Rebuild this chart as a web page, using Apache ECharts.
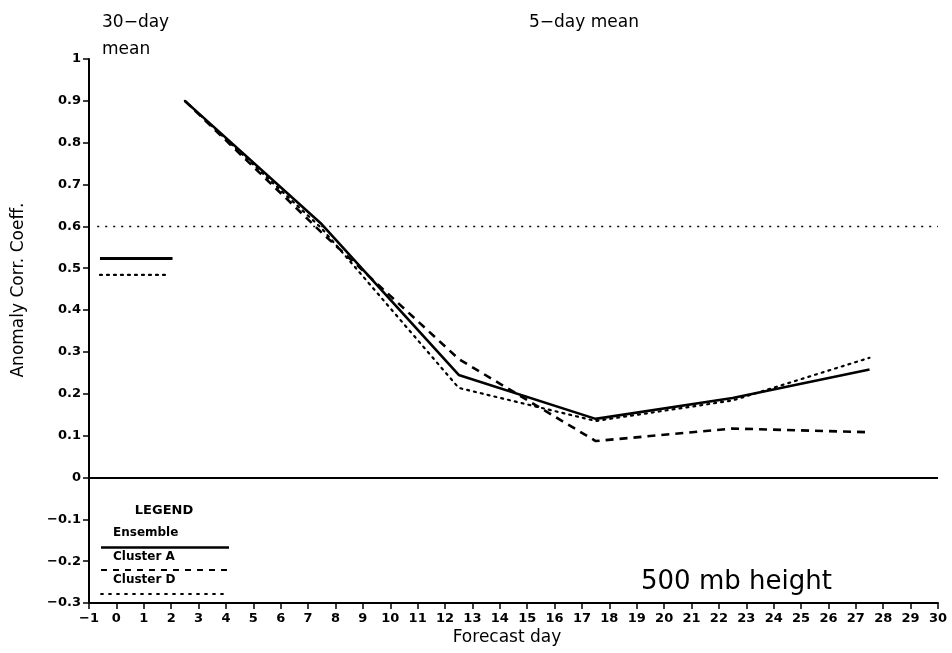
<!DOCTYPE html>
<html>
<head>
<meta charset="utf-8">
<script src="https://cdn.jsdelivr.net/npm/echarts@6/dist/echarts.min.js"></script>
<style>
  html, body { margin: 0; padding: 0; background: #fff; }
  #chart { width: 952px; height: 653px; }
</style>
</head>
<body>
<div id="chart"></div>
<script>
// 5-day mean forecast windows (centre day of each window)
const days = [2.5, 7.5, 12.5, 17.5, 22.5, 27.5];
// Anomaly correlation coefficient of 500 mb height, 5-day means
const ensemble = [0.90, 0.605, 0.245, 0.140, 0.190, 0.258];
const clusterA = [0.90, 0.585, 0.283, 0.087, 0.117, 0.108];
const clusterD = [0.90, 0.595, 0.214, 0.135, 0.184, 0.286];
// 30-day mean scores, shown as short bars at the left
const monthSpanEnsemble = [-0.6, 2.05];
const monthSpanClusterD = [-0.6, 1.85];
const monthEnsemble = 0.523;
const monthClusterD = 0.484;
// reference levels
const skillThreshold = 0.6;
const zeroLevel = 0;
// axis ranges
const xRange = [-1, 30];
const yRange = [-0.3, 1];

const FONT = 'DejaVu Sans';
const pairs = (xs, ys) => xs.map((x, i) => [x, ys[i]]);
const flat = (span, v) => span.map(x => [x, v]);

const fmtY = v => {
  const r = Math.round(v * 10) / 10;
  if (r === 0) return '0';
  if (r === 1) return '1';
  return (r < 0 ? '\u2212' : '') + Math.abs(r).toFixed(1);
};
const fmtX = v => (v < 0 ? '\u2212' : '') + Math.abs(v);

const lineBase = { type: 'line', symbol: 'none', animation: false, z: 3 };

const chart = echarts.init(document.getElementById('chart'), null, { renderer: 'canvas' });
chart.setOption({
  backgroundColor: '#fff',
  animation: false,
  grid: { left: 89, right: 14, top: 59, bottom: 50 },
  xAxis: {
    type: 'value', min: xRange[0], max: xRange[1], interval: 1,
    axisLine: { onZero: false, lineStyle: { color: '#000', width: 2 } },
    axisTick: { show: true, length: 6, lineStyle: { color: '#000', width: 1.5 } },
    axisLabel: { color: '#000', fontFamily: FONT, fontWeight: 'bold', fontSize: 13, margin: 9, formatter: fmtX },
    splitLine: { show: false }
  },
  yAxis: {
    type: 'value', min: yRange[0], max: yRange[1], interval: 0.1,
    axisLine: { onZero: false, lineStyle: { color: '#000', width: 2 } },
    axisTick: { show: true, length: 6, lineStyle: { color: '#000', width: 1.5 } },
    axisLabel: { color: '#000', fontFamily: FONT, fontWeight: 'bold', fontSize: 13, margin: 8, formatter: fmtY },
    splitLine: { show: false }
  },
  series: [
    {
      ...lineBase, name: 'Cluster D', data: pairs(days, clusterD),
      lineStyle: { color: '#000', width: 2.2, type: [2, 5], cap: 'round' },
      markLine: {
        silent: true, symbol: 'none', label: { show: false },
        lineStyle: { color: '#000', width: 1.4, type: [2, 6] },
        data: [[{ coord: [-0.7, skillThreshold] }, { coord: [xRange[1], skillThreshold] }]]
      }
    },
    {
      ...lineBase, name: 'Cluster A', data: pairs(days, clusterA),
      lineStyle: { color: '#000', width: 2.6, type: [8, 6] }
    },
    {
      ...lineBase, name: 'Ensemble', data: pairs(days, ensemble),
      lineStyle: { color: '#000', width: 2.6 },
      markLine: {
        silent: true, symbol: 'none', label: { show: false },
        lineStyle: { color: '#000', width: 2, type: 'solid' },
        data: [[{ coord: [xRange[0], zeroLevel] }, { coord: [xRange[1], zeroLevel] }]]
      }
    },
    {
      ...lineBase, name: 'Ensemble 30-day', data: flat(monthSpanEnsemble, monthEnsemble),
      lineStyle: { color: '#000', width: 3 }
    },
    {
      ...lineBase, name: 'Cluster D 30-day', data: flat(monthSpanClusterD, monthClusterD),
      lineStyle: { color: '#000', width: 2.2, type: [2, 5], cap: 'round' }
    }
  ],
  graphic: [
    { type: 'text', left: 102, top: 14, style: { text: '30\u2212day', font: '17px "DejaVu Sans"', fill: '#000' } },
    { type: 'text', left: 102, top: 41, style: { text: 'mean', font: '17px "DejaVu Sans"', fill: '#000' } },
    { type: 'text', left: 529, top: 14, style: { text: '5\u2212day mean', font: '17px "DejaVu Sans"', fill: '#000' } },
    { type: 'text', left: 641, top: 569, style: { text: '500 mb height', font: '26px "DejaVu Sans"', fill: '#000' } },
    // axis titles
    { type: 'text', x: 507, y: 638, style: { text: 'Forecast day', font: '17px "DejaVu Sans"', fill: '#000', align: 'center', verticalAlign: 'middle' } },
    { type: 'text', x: 19, y: 290, rotation: Math.PI / 2, style: { text: 'Anomaly Corr. Coeff.', font: '17px "DejaVu Sans"', fill: '#000', align: 'center', verticalAlign: 'middle' } },
    // legend block
    { type: 'text', x: 164, y: 511, style: { text: 'LEGEND', font: 'bold 13px "DejaVu Sans"', fill: '#000', align: 'center', verticalAlign: 'middle' } },
    { type: 'text', x: 113, y: 533, style: { text: 'Ensemble', font: 'bold 12px "DejaVu Sans"', fill: '#000', verticalAlign: 'middle' } },
    { type: 'line', shape: { x1: 101, y1: 547.5, x2: 229, y2: 547.5 }, style: { stroke: '#000', lineWidth: 2.4 } },
    { type: 'text', x: 113, y: 557, style: { text: 'Cluster A', font: 'bold 12px "DejaVu Sans"', fill: '#000', verticalAlign: 'middle' } },
    { type: 'line', shape: { x1: 101, y1: 570, x2: 229, y2: 570 }, style: { stroke: '#000', lineWidth: 2, lineDash: [6, 6] } },
    { type: 'text', x: 113, y: 580, style: { text: 'Cluster D', font: 'bold 12px "DejaVu Sans"', fill: '#000', verticalAlign: 'middle' } },
    { type: 'line', shape: { x1: 101, y1: 594, x2: 229, y2: 594 }, style: { stroke: '#000', lineWidth: 1.8, lineDash: [2, 6], lineCap: 'round' } }
  ]
});
</script>
</body>
</html>
